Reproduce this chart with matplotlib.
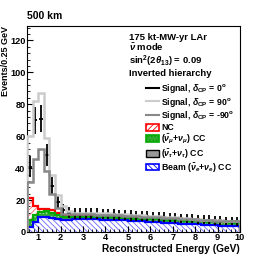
import numpy as np
import matplotlib.pyplot as plt
from matplotlib.lines import Line2D
from matplotlib.patches import Patch
from matplotlib.ticker import MultipleLocator

plt.rcParams['font.family'] = ['Liberation Sans', 'DejaVu Sans']
plt.rcParams['font.weight'] = 'bold'
plt.rcParams['axes.labelweight'] = 'bold'
plt.rcParams['axes.titleweight'] = 'bold'
plt.rcParams['mathtext.fontset'] = 'custom'
plt.rcParams['mathtext.rm'] = 'Liberation Sans:bold'
plt.rcParams['mathtext.it'] = 'Liberation Sans:italic:bold'
plt.rcParams['mathtext.bf'] = 'Liberation Sans:bold'
plt.rcParams['hatch.linewidth'] = 0.6

# ---- DATA (0.25 GeV bins, 0.5 - 10 GeV) ----
edges = np.arange(0.5, 10.01, 0.25)

beam = [3.3, 6.5, 9.2, 9.5, 8.7, 8.0, 7.8, 7.8, 7.9, 8.0, 8.0, 8.0, 7.9, 7.8, 7.7,
        7.6, 7.5, 7.3, 7.1, 6.9, 6.7, 6.5, 6.3, 6.1, 5.9, 5.7, 5.5, 5.3, 5.1, 4.9,
        4.7, 4.5, 4.3, 4.1, 3.9, 3.7, 3.6, 3.5]
tau = [0.1, 0.2, 0.3, 0.3, 0.3, 0.3, 0.3, 0.3, 0.3, 0.3, 0.3, 0.3, 0.3, 0.3, 0.3,
       0.3, 0.3, 0.3, 0.3, 0.3, 0.3, 0.3, 0.3, 0.3, 0.3, 0.3, 0.3, 0.3, 0.3, 0.3,
       0.3, 0.3, 0.3, 0.3, 0.3, 0.3, 0.3, 0.3]
numu = [4.1, 3.9, 3.2, 3.2, 3.0, 2.2, 1.6, 1.3, 1.2, 1.2, 1.2, 1.2, 1.2, 1.2, 1.2,
        1.2, 1.2, 1.2, 1.2, 1.25, 1.3, 1.35, 1.4, 1.45, 1.5, 1.55, 1.6, 1.65, 1.7, 1.75,
        1.8, 1.85, 1.9, 1.9, 1.95, 1.95, 2.0, 2.0]
nc = [13.5, 5.5, 1.7, 1.7, 1.5, 1.2, 1.0, 0.9, 0.8, 0.8, 0.8, 0.8, 0.8, 0.8, 0.8,
      0.8, 0.8, 0.8, 0.8, 0.75, 0.7, 0.7, 0.65, 0.6, 0.6, 0.55, 0.55, 0.5, 0.5, 0.5,
      0.5, 0.45, 0.45, 0.45, 0.4, 0.4, 0.4, 0.4]

sig_0 = [41, 70, 71, 48, 29, 19, 14, 12, 11.5, 11.5, 11.5, 11.5, 11.4, 11.3, 11.2,
         11.0, 10.8, 10.6, 10.4, 10.2, 10.0, 9.8, 9.6, 9.4, 9.2, 9.0, 8.8, 8.6, 8.4, 8.2,
         8.0, 7.8, 7.6, 7.4, 7.2, 7.0, 6.8, 6.6]
sig_90 = [60, 82, 87, 59, 36, 23, 16, 13, 12, 12, 12, 12, 11.9, 11.8, 11.7,
          11.5, 11.3, 11.1, 10.9, 10.7, 10.5, 10.3, 10.1, 9.9, 9.7, 9.4, 9.1, 8.8, 8.5, 8.2,
          8.0, 7.8, 7.6, 7.4, 7.2, 7.0, 6.9, 6.8]
sig_m90 = [31, 46, 52, 38, 24, 15, 11.5, 11, 11, 11, 11, 11, 10.9, 10.8, 10.7,
           10.6, 10.5, 10.3, 10.1, 9.9, 9.7, 9.5, 9.3, 9.1, 8.9, 8.7, 8.5, 8.3, 8.1, 7.9,
           7.7, 7.5, 7.3, 7.1, 6.9, 6.8, 6.7, 6.6]

# ---- STACK ----
c1 = np.array(beam)
c2 = c1 + np.array(tau)
c3 = c2 + np.array(numu)
c4 = c3 + np.array(nc)
centers = 0.5 * (edges[:-1] + edges[1:])

fig = plt.figure(figsize=(2.66, 2.58), dpi=100)
ax = fig.add_axes([0.1015, 0.1008, 0.8005, 0.7984])

ax.stairs(c4, edges, baseline=c3, fill=True, facecolor='white', edgecolor='#ff6666',
          hatch='//////', lw=0, zorder=1)
ax.stairs(c3, edges, baseline=c2, fill=True, facecolor='#33aa33', edgecolor='#aaddaa',
          hatch='.....', lw=0, zorder=1)
ax.stairs(c2, edges, baseline=c1, fill=True, facecolor='#888888', lw=0, zorder=1)
ax.stairs(c1, edges, baseline=0, fill=True, facecolor='white', edgecolor='#6666ff',
          hatch='\\\\\\\\\\\\', lw=0, zorder=1)

ax.stairs(c4, edges, color='#ff0000', lw=1.6, zorder=2)
ax.stairs(c3, edges, color='#00aa00', lw=1.6, zorder=2)
ax.stairs(c1, edges, color='#0000ff', lw=1.6, zorder=2)

ax.errorbar(centers, sig_0, yerr=np.sqrt(sig_0), xerr=0.09, fmt='none',
            ecolor='black', elinewidth=1.3, zorder=3)

ax.stairs(sig_90, edges, color='#cccccc', lw=1.8, zorder=4)
ax.stairs(sig_m90, edges, color='#888888', lw=1.8, zorder=5)

# ---- AXES ----
ax.set_xlim(0.5, 10)
ax.set_ylim(0, 129)
ax.xaxis.set_minor_locator(MultipleLocator(0.2))
ax.yaxis.set_major_locator(MultipleLocator(20))
ax.yaxis.set_minor_locator(MultipleLocator(4))
ax.set_xticks([1, 2, 3, 4, 5, 6, 7, 8, 9, 10])
ax.tick_params(which='both', direction='in', top=False, right=False,
               labelsize=6.6, pad=1)
ax.tick_params(which='major', length=4, width=0.8)
ax.tick_params(which='minor', length=2, width=0.6)
for s in ax.spines.values():
    s.set_linewidth(0.8)

ax.set_xlabel('Reconstructed Energy (GeV)', loc='right', fontsize=7.3, labelpad=1)
ax.set_ylabel('Events/0.25 GeV', loc='top', fontsize=6.5)
ax.yaxis.set_label_coords(-0.08, 1.0)
ax.set_title('500 km', loc='left', fontsize=7.5, pad=5)

ax.text(0.48, 0.965, '175 kt-MW-yr LAr\n' + r'$\bar{\nu}$ mode' + '\n'
        + r'sin$^2$(2$\theta_{13}$) = 0.09' + '\nInverted hierarchy',
        transform=ax.transAxes, ha='left', va='top', fontsize=6.8, linespacing=1.0)

handles = [
    Line2D([], [], color='black', lw=1.5),
    Line2D([], [], color='#cccccc', lw=1.5),
    Line2D([], [], color='#888888', lw=1.5),
    Patch(facecolor='white', edgecolor='#ff0000', hatch='//////', lw=1.2),
    Patch(facecolor='#33aa33', edgecolor='#00aa00', hatch='.....', lw=1.2),
    Patch(facecolor='#999999', edgecolor='black', lw=1.0),
    Patch(facecolor='white', edgecolor='#0000ff', hatch='\\\\\\\\\\\\', lw=1.2),
]
labels = [
    r'Signal, $\delta_{\rm CP}$ = 0$^{\rm o}$',
    r'Signal, $\delta_{\rm CP}$ = 90$^{\rm o}$',
    r'Signal, $\delta_{\rm CP}$ = -90$^{\rm o}$',
    'NC',
    r'($\bar{\nu}_\mu$+$\nu_\mu$) CC',
    r'($\bar{\nu}_\tau$+$\nu_\tau$) CC',
    r'Beam ($\bar{\nu}_e$+$\nu_e$) CC',
]
ax.legend(handles, labels, loc='upper right', bbox_to_anchor=(1.0, 0.755),
          frameon=False, fontsize=6.3, handlelength=1.5, handleheight=0.8,
          handletextpad=0.3, labelspacing=0.1, borderaxespad=0.2)

fig.savefig('out.png', dpi=100)
